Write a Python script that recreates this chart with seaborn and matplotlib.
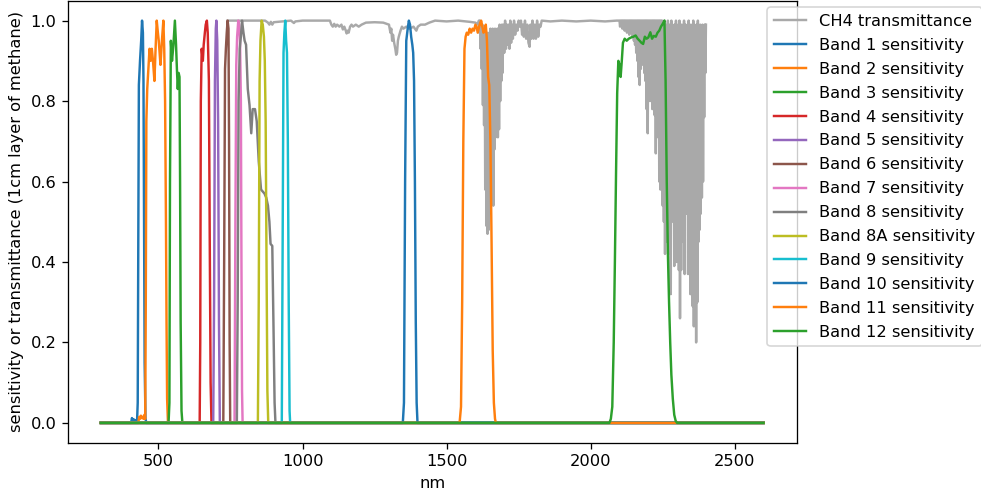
import matplotlib
matplotlib.use("Agg")
import matplotlib.pyplot as plt
import seaborn as sns

# CH4 transmittance (1cm layer)
ch4_nm = [740, 870, 880, 885, 890, 895, 900, 960, 970, 975, 1000, 1095,
          1100, 1105, 1110, 1115, 1120, 1128, 1135, 1140, 1145, 1150, 1153, 1156,
          1160, 1165, 1170, 1175, 1185, 1195, 1205, 1220, 1250, 1280, 1300, 1305,
          1308, 1311, 1314, 1318, 1322, 1325, 1328, 1331, 1334, 1340, 1345, 1350,
          1360, 1370, 1380, 1385, 1390, 1395, 1400, 1410, 1425, 1440, 1460, 1500,
          1540, 1580, 1600, 1610,
          1612, 1614, 1616, 1618, 1620, 1622, 1624, 1626, 1628, 1630, 1632, 1634,
          1636, 1638, 1640, 1642, 1644, 1646, 1648, 1650, 1652, 1654, 1656, 1658,
          1660, 1662, 1664, 1666, 1668, 1670, 1672, 1674, 1676, 1678, 1680, 1682,
          1684, 1686, 1688, 1690, 1692, 1694, 1697, 1700, 1703, 1706, 1709, 1712,
          1715, 1718, 1721, 1724, 1727, 1730, 1734, 1738, 1742, 1746, 1750, 1754,
          1758, 1762, 1765, 1768, 1772, 1776, 1780, 1784, 1788, 1791, 1794, 1798,
          1802, 1806, 1810, 1814, 1818, 1822, 1826, 1830,
          1860, 1900, 1950, 2000, 2050, 2090,
          2100, 2102, 2104, 2106, 2108, 2110, 2112, 2114, 2116, 2118, 2120, 2122,
          2124, 2126, 2128, 2130, 2132, 2134, 2136, 2138, 2140, 2142, 2144, 2146,
          2148, 2150, 2152, 2154, 2156, 2158, 2160, 2162, 2164, 2166, 2168, 2170,
          2172, 2174, 2176, 2178, 2180, 2182, 2184, 2186, 2188, 2190, 2192, 2194,
          2196, 2198, 2200, 2202, 2204, 2206, 2208, 2210, 2212, 2214, 2216, 2218,
          2220, 2222, 2224, 2226, 2228, 2230, 2232, 2234, 2236, 2238, 2240, 2242,
          2244, 2246, 2248, 2250, 2252, 2254, 2256, 2258, 2260, 2262, 2264, 2266,
          2268, 2270, 2272, 2274, 2276, 2278, 2280, 2282, 2284, 2286, 2288, 2290,
          2292, 2294, 2296, 2298, 2300, 2302, 2304, 2306, 2308, 2310, 2312, 2314,
          2316, 2318, 2320, 2322, 2324, 2326, 2328, 2330, 2332, 2334, 2336, 2338,
          2340, 2342, 2344, 2346, 2348, 2350, 2352, 2354, 2356, 2358, 2360, 2362,
          2364, 2366, 2368, 2370, 2372, 2374, 2376, 2378, 2380, 2382, 2384, 2386,
          2388, 2390, 2392, 2394, 2396, 2398, 2400]
ch4_tr = [1.0, 1.0, 0.995, 0.99, 0.997, 0.99, 0.996, 1.0, 0.994, 0.998, 1.0, 1.0,
          0.99, 0.985, 0.992, 0.985, 0.99, 0.985, 0.99, 0.978, 0.985, 0.975, 0.968, 0.975,
          0.97, 0.985, 0.99, 0.985, 0.99, 0.985, 0.99, 0.995, 0.996, 0.995, 0.99, 0.97,
          0.98, 0.95, 0.965, 0.945, 0.93, 0.915, 0.92, 0.95, 0.96, 0.975, 0.985, 0.98,
          0.985, 0.98, 0.983, 0.985, 0.98, 0.975, 0.985, 0.99, 0.99, 0.995, 1.0, 0.998,
          1.0, 0.997, 0.995, 0.99,
          1.0, 0.97, 1.0, 0.93, 0.99, 0.88, 0.99, 0.79, 0.98, 0.74, 0.97, 0.58,
          0.98, 0.49, 0.97, 0.47, 0.96, 0.48, 0.97, 0.52, 0.98, 0.54, 0.97, 0.55,
          0.98, 0.54, 0.97, 0.68, 0.98, 0.71, 0.97, 0.72, 0.98, 0.71, 0.98, 0.73,
          0.99, 0.80, 0.98, 0.85, 0.99, 0.87, 0.99, 0.92, 1.0, 0.93, 0.99, 0.94,
          0.99, 0.93, 1.0, 0.945, 0.99, 0.955, 1.0, 0.965, 0.99, 0.975, 1.0, 0.985,
          1.0, 0.965, 0.99, 0.96, 1.0, 0.955, 0.99, 0.945, 0.935, 0.99, 0.955, 1.0,
          0.955, 0.99, 0.955, 1.0, 0.96, 0.99, 0.985, 1.0,
          0.998, 1.0, 0.998, 1.0, 0.998, 1.0,
          1.0, 0.985, 1.0, 0.99, 1.0, 0.98, 1.0, 0.985, 1.0, 0.975, 1.0, 0.98,
          1.0, 0.97, 1.0, 0.975, 1.0, 0.965, 1.0, 0.975, 1.0, 0.97, 1.0, 0.96,
          1.0, 0.95, 1.0, 0.94, 1.0, 0.92, 1.0, 0.90, 1.0, 0.86, 1.0, 0.84,
          1.0, 0.88, 1.0, 0.90, 1.0, 0.89, 1.0, 0.87, 1.0, 0.85, 1.0, 0.78,
          1.0, 0.72, 1.0, 0.87, 1.0, 0.80, 1.0, 0.82, 1.0, 0.78, 1.0, 0.80,
          1.0, 0.765, 1.0, 0.67, 1.0, 0.72, 1.0, 0.71, 1.0, 0.60, 1.0, 0.58,
          1.0, 0.62, 1.0, 0.54, 0.99, 0.50, 1.0, 0.42, 0.99, 0.47, 0.98, 0.45,
          1.0, 0.42, 0.99, 0.52, 0.98, 0.32, 1.0, 0.50, 0.99, 0.55, 0.98, 0.39,
          0.99, 0.48, 1.0, 0.40, 0.98, 0.45, 0.99, 0.38, 1.0, 0.26, 0.98, 0.38,
          0.99, 0.45, 0.98, 0.50, 1.0, 0.37, 0.99, 0.63, 0.98, 0.52, 0.99, 0.37,
          1.0, 0.45, 0.98, 0.32, 0.99, 0.40, 0.98, 0.29, 1.0, 0.24, 0.99, 0.35,
          0.98, 0.20, 0.99, 0.30, 1.0, 0.45, 0.98, 0.48, 0.99, 0.52, 0.98, 0.56,
          0.99, 0.60, 0.98, 0.76, 0.99, 0.87, 0.99]

# Sentinel-2 band sensitivities (zero padded 300..2600 nm)
b1_nm = [300, 405, 408, 411, 414, 417, 420, 423, 426, 428, 430, 432, 436, 440, 443,
         446, 448, 450, 452, 455, 458, 2600]
b1_val = [0, 0, 0.012, 0.005, 0.009, 0.004, 0.006, 0.002, 0.01, 0.05, 0.45, 0.84, 0.9,
          0.95, 1.0, 0.97, 0.85, 0.5, 0.15, 0.01, 0, 0]

b2_nm = [300, 430, 433, 436, 439, 442, 445, 448, 451, 454, 456, 458, 461, 465, 469,
         473, 477, 481, 486, 490, 494, 498, 501, 504, 507, 512, 517, 520, 523, 526,
         528, 530, 533, 2600]
b2_val = [0, 0, 0.015, 0.01, 0.018, 0.012, 0.015, 0.01, 0.02, 0.01, 0.3, 0.75, 0.83,
          0.88, 0.93, 0.9, 0.93, 0.9, 0.85, 0.93, 1.0, 0.97, 0.95, 0.92, 0.89, 0.95,
          1.0, 0.93, 0.8, 0.5, 0.25, 0.06, 0, 0]

b3_nm = [300, 535, 538, 540, 543, 547, 552, 557, 561, 564, 567, 570, 573, 575, 577,
         580, 583, 2600]
b3_val = [0, 0, 0.05, 0.6, 0.95, 0.9, 0.94, 1.0, 0.94, 0.88, 0.83, 0.87, 0.86, 0.6,
          0.25, 0.03, 0, 0]

b4_nm = [300, 643, 645, 647, 650, 654, 657, 661, 664, 668, 671, 675, 678, 681, 684, 2600]
b4_val = [0, 0, 0.2, 0.8, 0.93, 0.9, 0.94, 0.97, 0.99, 1.0, 0.97, 0.85, 0.45, 0.1, 0, 0]

b5_nm = [300, 690, 693, 696, 699, 701, 704, 707, 710, 713, 2600]
b5_val = [0, 0, 0.3, 0.85, 0.98, 1.0, 0.95, 0.75, 0.25, 0, 0]

b6_nm = [300, 725, 728, 731, 734, 737, 740, 743, 745, 747, 749, 2600]
b6_val = [0, 0, 0.4, 0.88, 0.93, 0.97, 1.0, 0.98, 0.7, 0.2, 0, 0]

b7_nm = [300, 764, 767, 770, 773, 777, 780, 783, 786, 788, 790, 792, 2600]
b7_val = [0, 0, 0.5, 0.89, 0.96, 1.0, 0.99, 0.95, 0.8, 0.4, 0.08, 0, 0]

b8_nm = [300, 772, 775, 778, 782, 786, 790, 795, 799, 804, 810, 816, 822, 827, 835,
         841, 848, 856, 862, 868, 874, 880, 885, 889, 895, 899, 903, 906, 908, 2600]
b8_val = [0, 0, 0.3, 0.8, 0.93, 0.96, 1.0, 0.97, 0.95, 0.94, 0.83, 0.79, 0.72, 0.78,
          0.78, 0.75, 0.65, 0.58, 0.575, 0.57, 0.56, 0.54, 0.5, 0.445, 0.44, 0.25,
          0.05, 0, 0, 0]

b8a_nm = [300, 845, 848, 851, 854, 858, 862, 866, 869, 872, 875, 878, 881, 2600]
b8a_val = [0, 0, 0.3, 0.85, 0.95, 1.0, 0.99, 0.96, 0.9, 0.75, 0.4, 0.08, 0, 0]

b9_nm = [300, 928, 931, 934, 937, 940, 943, 946, 949, 952, 955, 957, 2600]
b9_val = [0, 0, 0.45, 0.92, 0.97, 1.0, 0.95, 0.92, 0.7, 0.3, 0.03, 0, 0]

b10_nm = [300, 1348, 1352, 1356, 1360, 1365, 1369, 1373, 1377, 1381, 1384, 1387, 1390,
          1393, 1396, 1399, 2600]
b10_val = [0, 0, 0.05, 0.6, 0.95, 0.98, 1.0, 0.99, 0.96, 0.94, 0.92, 0.85, 0.6, 0.25,
           0.05, 0, 0]

b11_nm = [300, 1545, 1550, 1554, 1558, 1562, 1566, 1570, 1575, 1580, 1585, 1590, 1595,
          1600, 1604, 1608, 1613, 1617, 1620, 1624, 1628, 1632, 1636, 1640, 1644, 1648,
          1652, 1656, 1660, 1664, 1668, 1671, 2600]
b11_val = [0, 0, 0.04, 0.3, 0.7, 0.93, 0.96, 0.97, 0.965, 0.98, 0.97, 0.98, 0.975, 0.99,
           0.985, 0.97, 0.985, 0.995, 1.0, 0.985, 0.97, 0.975, 0.99, 0.95, 0.86, 0.84,
           0.7, 0.45, 0.18, 0.05, 0.01, 0, 0]

b12_nm = [300, 2065, 2070, 2075, 2080, 2084, 2088, 2092, 2096, 2100, 2104, 2108, 2112,
          2118, 2125, 2132, 2140, 2148, 2156, 2163, 2170, 2176, 2182, 2188, 2194, 2200,
          2207, 2213, 2219, 2226, 2232, 2238, 2244, 2250, 2256, 2260, 2264, 2268, 2272,
          2276, 2280, 2285, 2290, 2295, 2300, 2600]
b12_val = [0, 0, 0.01, 0.04, 0.2, 0.4, 0.62, 0.82, 0.9, 0.89, 0.86, 0.9, 0.945, 0.955,
           0.95, 0.955, 0.958, 0.96, 0.963, 0.955, 0.95, 0.945, 0.942, 0.96, 0.955,
           0.958, 0.971, 0.955, 0.962, 0.96, 0.97, 0.975, 0.985, 0.992, 1.0, 0.85, 0.6,
           0.42, 0.3, 0.2, 0.12, 0.06, 0.02, 0.005, 0, 0]

band_names = ["1", "2", "3", "4", "5", "6", "7", "8", "8A", "9", "10", "11", "12"]
band_nm = [b1_nm, b2_nm, b3_nm, b4_nm, b5_nm, b6_nm, b7_nm, b8_nm, b8a_nm, b9_nm,
           b10_nm, b11_nm, b12_nm]
band_val = [b1_val, b2_val, b3_val, b4_val, b5_val, b6_val, b7_val, b8_val, b8a_val,
            b9_val, b10_val, b11_val, b12_val]

# keep every spike of the dense CH4 line
plt.rcParams['path.simplify'] = False

dpi = 117
fig = plt.figure(figsize=(981 / dpi, 495 / dpi), dpi=dpi)
ax = fig.add_axes([67.7 / 981, 1 - 443 / 495, 729 / 981, 442.5 / 495])

sns.lineplot(x=ch4_nm, y=ch4_tr, ax=ax, color="darkgray", label="CH4 transmittance",
             estimator=None, sort=False)

palette = sns.color_palette("tab10")
for i, name in enumerate(band_names):
    sns.lineplot(x=band_nm[i], y=band_val[i], ax=ax, color=palette[i % 10],
                 label="Band " + name + " sensitivity", estimator=None, sort=False)

ax.set_xlabel("nm")
ax.set_ylabel("sensitivity or transmittance (1cm layer of methane)")
ax.set_xticks([500, 1000, 1500, 2000, 2500])

ax.legend(loc="upper left", bbox_to_anchor=(767.3 / 981, 1 - 7.3 / 495),
          bbox_transform=fig.transFigure, borderaxespad=0, labelspacing=0.55)

fig.savefig("out.png", dpi=dpi)
